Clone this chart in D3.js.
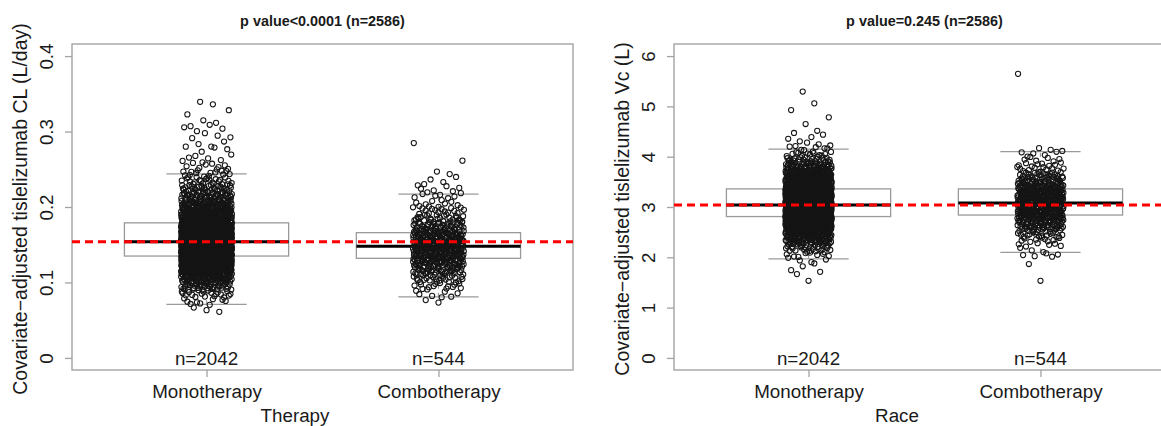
<!DOCTYPE html>
<html>
<head>
<meta charset="utf-8">
<script src="https://cdn.jsdelivr.net/npm/d3@7"></script>
<style>
  html, body { margin: 0; padding: 0; background: #ffffff; }
  svg { display: block; }
  text { font-family: "Liberation Sans", Arial, sans-serif; fill: #1a1a1a; }
</style>
</head>
<body>
<svg id="chart" width="1161" height="426"></svg>
<script>
// ---- shared categories ----
const groups = ["Monotherapy", "Combotherapy"];
const groupN = [2042, 544];

// ---- clearance (CL) panel ----
const clTitle = "p value<0.0001 (n=2586)";
const clYLabel = "Covariate\u2212adjusted tislelizumab CL (L/day)";
const clXLabel = "Therapy";
const clTicks = [0, 0.1, 0.2, 0.3, 0.4];
const clTickLabels = ["0", "0.1", "0.2", "0.3", "0.4"];
const clReference = 0.154;               // overall median (red dashed line)
// box statistics: lower whisker, Q1, median, Q3, upper whisker
const clMonoBox = [0.071, 0.135, 0.154, 0.179, 0.244];
const clComboBox = [0.081, 0.132, 0.148, 0.166, 0.217];
// observations counted per 0.01 L/day bin, from the given lower edge
const clBinWidth = 0.01;
const clMonoStart = 0.06;
const clMonoCounts = [3, 9, 20, 42, 75, 128, 188, 228, 245, 236, 218, 178, 140, 104,
                      70, 50, 34, 22, 15, 9, 6, 4, 3, 4, 5, 2, 2, 2];
const clComboStart = 0.07;
const clComboCounts = [2, 7, 14, 24, 38, 55, 76, 82, 74, 58, 40, 26, 16, 10, 8, 6, 4, 2,
                       0, 1, 0, 1];

// ---- central volume (Vc) panel ----
const vcTitle = "p value=0.245 (n=2586)";
const vcYLabel = "Covariate\u2212adjusted tislelizumab Vc (L)";
const vcXLabel = "Race";
const vcTicks = [0, 1, 2, 3, 4, 5, 6];
const vcTickLabels = ["0", "1", "2", "3", "4", "5", "6"];
const vcReference = 3.04;
const vcMonoBox = [1.97, 2.81, 3.04, 3.36, 4.15];
const vcComboBox = [2.10, 2.84, 3.08, 3.36, 4.10];
// observations counted per 0.1 L bin, from the given lower edge
const vcBinWidth = 0.1;
const vcMonoStart = 1.5;
const vcMonoCounts = [1, 1, 2, 2, 4, 8, 15, 26, 42, 63, 88, 118, 146, 172, 189, 197, 194,
                      180, 157, 128, 99, 73, 50, 33, 20, 12, 7, 4, 3, 2, 1, 1, 1, 0, 1, 1, 0, 1];
const vcComboStart = 1.5;
const vcComboCounts = [1, 0, 0, 1, 0, 5, 3, 6, 9, 15, 22, 30, 39, 47, 52, 54, 54, 50, 43,
                       35, 26, 18, 11, 8, 6, 5, 3, 0, 0, 0, 0, 0, 0, 0, 0, 0, 0, 0, 0, 0, 0, 1];

// ---- layout / style ----
const PLOT_TOP = 44, PLOT_BOTTOM = 370, PLOT_WIDTH = 501;
const FRAME = "#a3a3a3";
const BOX = "#9a9a9a";
const FONT = 18.8;
const svg = d3.select("#chart");

// radical inverse of n in the given base (Halton coordinate)
function radicalInverse(n, base) {
  let f = 1, r = 0;
  while (n > 0) { f /= base; r += f * (n % base); n = Math.floor(n / base); }
  return r;
}

// Spread each bin's observations evenly over the bin height and jitter them
// horizontally around the group position (Halton 2/3 placement).
function binnedPoints(start, width, counts, groupIndex, jitter) {
  const pts = [];
  let n = 1;
  counts.forEach((c, b) => {
    for (let k = 0; k < c; k++, n++) {
      const fx = radicalInverse(n, 2);
      const fy = radicalInverse(n, 3);
      pts.push({ g: groupIndex + jitter * (2 * fx - 1), v: start + (b + fy) * width });
    }
  });
  return pts;
}

function drawPanel(p, id) {
  const x = d3.scaleLinear().domain([0.42, 2.58]).range([p.left, p.left + PLOT_WIDTH]);
  const y = d3.scaleLinear().domain([-0.04 * p.yMax, 1.04 * p.yMax]).range([PLOT_BOTTOM, PLOT_TOP]);
  const g = svg.append("g");

  g.append("clipPath").attr("id", "clip" + id)
    .append("rect").attr("x", p.left).attr("y", PLOT_TOP)
    .attr("width", PLOT_WIDTH).attr("height", PLOT_BOTTOM - PLOT_TOP);

  // title
  g.append("text")
    .attr("x", p.left + PLOT_WIDTH / 2).attr("y", 26)
    .attr("text-anchor", "middle").attr("font-size", 14.4).attr("font-weight", "bold")
    .text(p.title);

  // y axis
  const ay = g.append("g").attr("transform", `translate(${p.left},0)`)
    .call(d3.axisLeft(y).tickValues(p.ticks).tickFormat((d, i) => p.tickLabels[i])
      .tickSize(7).tickSizeOuter(0));
  ay.select(".domain").remove();
  ay.selectAll(".tick line").attr("stroke", FRAME).attr("stroke-width", 1.3);
  ay.selectAll(".tick text")
    .attr("transform", "rotate(-90)").attr("x", 0).attr("y", -19).attr("dy", 0)
    .attr("text-anchor", "middle").attr("font-size", FONT)
    .attr("font-family", "Liberation Sans, Arial, sans-serif").attr("fill", "#1a1a1a");

  // x axis
  const ax = g.append("g").attr("transform", `translate(0,${PLOT_BOTTOM})`)
    .call(d3.axisBottom(x).tickValues([1, 2]).tickFormat((d, i) => groups[i])
      .tickSize(7).tickSizeOuter(0));
  ax.select(".domain").remove();
  ax.selectAll(".tick line").attr("stroke", FRAME).attr("stroke-width", 1.3);
  ax.selectAll(".tick text")
    .attr("y", 28).attr("dy", 0).attr("font-size", FONT)
    .attr("font-family", "Liberation Sans, Arial, sans-serif").attr("fill", "#1a1a1a");

  // axis titles
  g.append("text")
    .attr("transform", `translate(${p.left - 45},${(PLOT_TOP + PLOT_BOTTOM) / 2 + 2}) rotate(-90)`)
    .attr("text-anchor", "middle").attr("font-size", 19.5).text(p.yLabel);
  g.append("text")
    .attr("x", p.left + 223).attr("y", 421.5)
    .attr("text-anchor", "middle").attr("font-size", FONT).text(p.xLabel);

  // frame
  g.append("rect")
    .attr("x", p.left).attr("y", PLOT_TOP)
    .attr("width", PLOT_WIDTH).attr("height", PLOT_BOTTOM - PLOT_TOP)
    .attr("fill", "none").attr("stroke", FRAME).attr("stroke-width", 1.4);

  const plot = g.append("g").attr("clip-path", `url(#clip${id})`);

  // boxplots
  const boxHalf = 0.354, capHalf = 0.173;
  p.boxes.forEach((b, i) => {
    const c = i + 1;
    const bg = plot.append("g");
    bg.append("rect")
      .attr("x", x(c - boxHalf)).attr("y", y(b[3]))
      .attr("width", x(c + boxHalf) - x(c - boxHalf)).attr("height", y(b[1]) - y(b[3]))
      .attr("fill", "none").attr("stroke", BOX).attr("stroke-width", 1.3);
    [[b[0], b[1]], [b[3], b[4]]].forEach(([a, z]) => {
      bg.append("line").attr("x1", x(c)).attr("x2", x(c)).attr("y1", y(a)).attr("y2", y(z))
        .attr("stroke", BOX).attr("stroke-width", 1.2).attr("stroke-dasharray", "4,4");
    });
    [b[0], b[4]].forEach(v => {
      bg.append("line").attr("x1", x(c - capHalf)).attr("x2", x(c + capHalf))
        .attr("y1", y(v)).attr("y2", y(v))
        .attr("stroke", BOX).attr("stroke-width", 1.3);
    });
    bg.append("line").attr("x1", x(c - boxHalf)).attr("x2", x(c + boxHalf))
      .attr("y1", y(b[2])).attr("y2", y(b[2]))
      .attr("stroke", "#000").attr("stroke-width", 3);
  });

  // individual observations
  const pts = p.series.flatMap((s, i) =>
    binnedPoints(s.start, p.binWidth, s.counts, i + 1, p.jitter));
  plot.append("g").selectAll("circle").data(pts).join("circle")
    .attr("cx", d => x(d.g)).attr("cy", d => y(d.v)).attr("r", 2.6)
    .attr("fill", "none").attr("stroke", "#151515").attr("stroke-width", 1.05);

  // overall median reference line
  plot.append("line")
    .attr("x1", p.left).attr("x2", p.left + PLOT_WIDTH)
    .attr("y1", y(p.reference)).attr("y2", y(p.reference))
    .attr("stroke", "#ff0000").attr("stroke-width", 3).attr("stroke-dasharray", "8,5");

  // group sizes
  g.append("g").selectAll("text").data(groupN).join("text")
    .attr("x", (d, i) => x(i + 1)).attr("y", y(0)).attr("dy", "0.36em")
    .attr("text-anchor", "middle").attr("font-size", FONT)
    .text(d => "n=" + d);
}

drawPanel({
  left: 72, yMax: 0.4, title: clTitle, yLabel: clYLabel, xLabel: clXLabel,
  ticks: clTicks, tickLabels: clTickLabels, reference: clReference,
  boxes: [clMonoBox, clComboBox], binWidth: clBinWidth, jitter: 0.11,
  series: [{ start: clMonoStart, counts: clMonoCounts }, { start: clComboStart, counts: clComboCounts }]
}, "cl");

drawPanel({
  left: 674, yMax: 6, title: vcTitle, yLabel: vcYLabel, xLabel: vcXLabel,
  ticks: vcTicks, tickLabels: vcTickLabels, reference: vcReference,
  boxes: [vcMonoBox, vcComboBox], binWidth: vcBinWidth, jitter: 0.1,
  series: [{ start: vcMonoStart, counts: vcMonoCounts }, { start: vcComboStart, counts: vcComboCounts }]
}, "vc");
</script>
</body>
</html>
